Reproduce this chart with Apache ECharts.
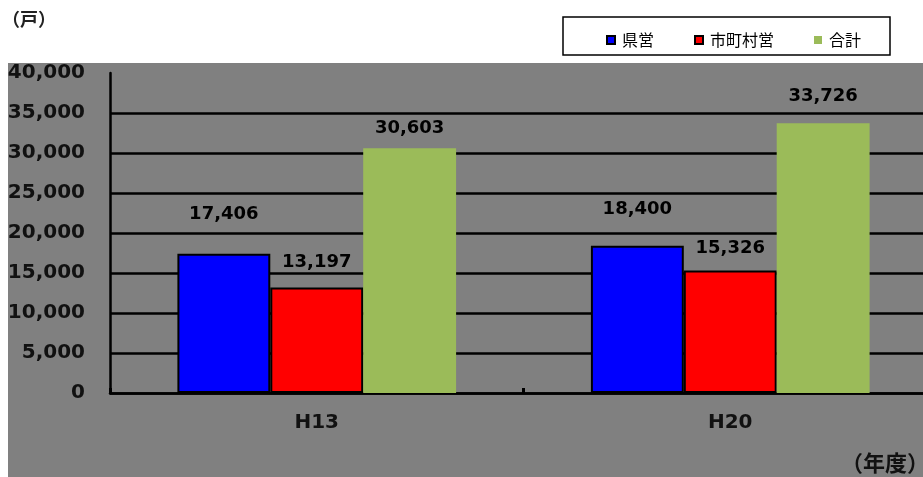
<!DOCTYPE html>
<html>
<head>
<meta charset="utf-8">
<script src="https://cdn.jsdelivr.net/npm/echarts@6/dist/echarts.min.js"></script>
<style>
  html, body { margin: 0; padding: 0; background: #fff; }
  #main { width: 923px; height: 477px; }
</style>
</head>
<body>
<div id="main"></div>
<script>
// 年度
var categories = ['H13', 'H20'];
// 県営 / 市町村営 / 合計
var kenei = [17406, 18400];
var shichosonei = [13197, 15326];
var goukei = [30603, 33726];
// ラベル位置の調整（棒の上からの距離）
var keneiDist = [30, 27];
var shichosonDist = [16, 13];
var goukeiDist = [11, 18];

var fmt = function (v) {
    return Number(v).toLocaleString('en-US');
};

var withDist = function (vals, dists) {
    return vals.map(function (v, i) {
        return { value: v, label: { distance: dists[i] } };
    });
};

var myChart = echarts.init(document.getElementById('main'));

var labelStyle = {
    show: true,
    position: 'top',
    color: '#000',
    fontFamily: 'DejaVu Sans',
    fontWeight: 'bold',
    fontSize: 18,
    formatter: function (p) { return fmt(p.value); }
};

var option = {
    animation: false,
    backgroundColor: '#fff',
    graphic: [
        { type: 'rect', z: -10, shape: { x: 8, y: 63, width: 915, height: 414 }, style: { fill: '#808080' } },
        { type: 'rect', z: -5, shape: { x: 563, y: 17, width: 327, height: 38 }, style: { fill: '#fff', stroke: '#000', lineWidth: 1.5 } },
        { type: 'text', left: 2, top: 10, style: { text: '（戸）', font: 'bold 18px "Noto Sans CJK JP"', fill: '#222' } },
        { type: 'text', left: 841, top: 452, style: { text: '（年度）', font: 'bold 22px "Noto Sans CJK JP"', fill: '#111' } }
    ],
    legend: {
        left: 601,
        top: 27,
        itemWidth: 8,
        itemHeight: 8,
        itemGap: 40,
        icon: 'rect',
        textStyle: { fontFamily: 'Noto Sans CJK JP', fontSize: 16, color: '#000', padding: [0, 0, 0, 2] },
        data: ['県営', '市町村営', '合計']
    },
    grid: { left: 110, top: 73, right: -14, height: 320, containLabel: false, outerBoundsMode: 'none' },
    xAxis: {
        type: 'category',
        data: categories,
        axisLine: { lineStyle: { color: '#000', width: 2.5 } },
        axisTick: { show: true, inside: true, length: 5, lineStyle: { color: '#000', width: 3 } },
        axisLabel: { margin: 20, color: '#111', fontFamily: 'DejaVu Sans', fontWeight: 'bold', fontSize: 20 }
    },
    yAxis: {
        type: 'value',
        min: 0,
        max: 40000,
        interval: 5000,
        axisLine: { show: true, lineStyle: { color: '#000', width: 2.5 } },
        axisTick: { show: false },
        splitLine: { show: true, showMaxLine: false, lineStyle: { color: '#000', width: 2.5 } },
        axisLabel: {
            margin: 25,
            color: '#111',
            fontFamily: 'DejaVu Sans',
            fontWeight: 'bold',
            fontSize: 20,
            formatter: fmt
        }
    },
    series: [
        {
            name: '県営',
            type: 'bar',
            barGap: '0%',
            barCategoryGap: '32.6%',
            data: withDist(kenei, keneiDist),
            itemStyle: { color: '#0000FF', borderColor: '#000', borderWidth: 2 },
            label: labelStyle
        },
        {
            name: '市町村営',
            type: 'bar',
            data: withDist(shichosonei, shichosonDist),
            itemStyle: { color: '#FF0000', borderColor: '#000', borderWidth: 2 },
            label: labelStyle
        },
        {
            name: '合計',
            type: 'bar',
            data: withDist(goukei, goukeiDist),
            itemStyle: { color: '#9BBB59' },
            label: labelStyle
        }
    ]
};

myChart.setOption(option);
</script>
</body>
</html>
